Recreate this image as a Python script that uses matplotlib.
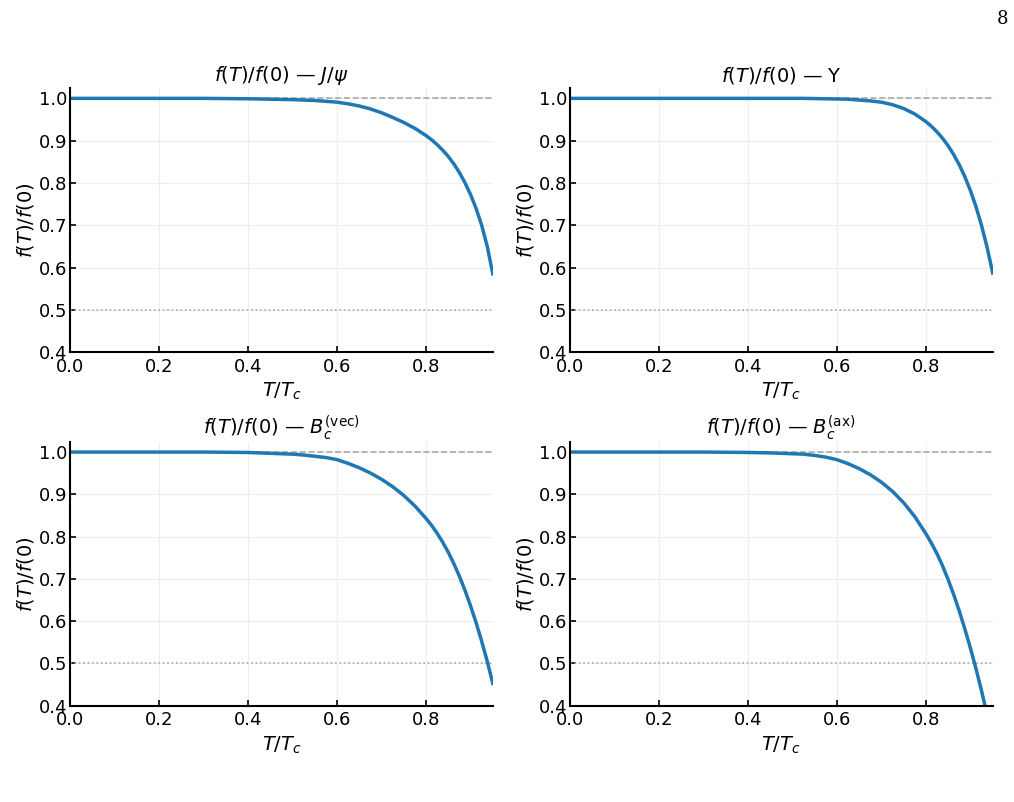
import numpy as np
import matplotlib
matplotlib.use("Agg")
import matplotlib.pyplot as plt

# Values
T = [0.0, 0.1, 0.2, 0.3, 0.35, 0.4, 0.45, 0.5, 0.525, 0.55, 0.575, 0.6,
     0.625, 0.65, 0.675, 0.7, 0.725, 0.75, 0.775, 0.8, 0.8125, 0.825,
     0.8375, 0.85, 0.8625, 0.875, 0.8875, 0.9, 0.9125, 0.925, 0.9375, 0.95]

f_jpsi = [1.0, 1.0, 1.0, 1.0, 0.9995, 0.999, 0.998, 0.997, 0.996, 0.995, 0.993, 0.991,
          0.987, 0.982, 0.975, 0.966, 0.955, 0.943, 0.929, 0.912, 0.902, 0.8905,
          0.8775, 0.8625, 0.845, 0.8245, 0.8005, 0.7725, 0.7395, 0.700, 0.650, 0.585]
f_upsilon = [1.0, 1.0, 1.0, 1.0, 1.0, 1.0, 1.0, 1.0, 1.0, 0.9995, 0.999, 0.9985,
             0.998, 0.996, 0.994, 0.991, 0.985, 0.976, 0.963, 0.945, 0.9337, 0.9206,
             0.9054, 0.8876, 0.8668, 0.8427, 0.8146, 0.7818, 0.7436, 0.6991, 0.6473, 0.5869]
f_bc_vec = [1.0, 1.0, 1.0, 1.0, 0.9995, 0.999, 0.997, 0.995, 0.993, 0.990, 0.987, 0.982,
            0.9732, 0.9628, 0.9504, 0.9357, 0.9181, 0.8973, 0.8724, 0.8429, 0.8266, 0.8079,
            0.7867, 0.7629, 0.7361, 0.7061, 0.6729, 0.6364, 0.5964, 0.5526, 0.5051, 0.4526]
f_bc_ax = [1.0, 1.0, 1.0, 1.0, 0.9995, 0.999, 0.998, 0.996, 0.995, 0.992, 0.988, 0.982,
           0.9725, 0.9608, 0.9464, 0.9287, 0.9069, 0.8801, 0.8472, 0.8067, 0.7842, 0.7592,
           0.7305, 0.698, 0.6624, 0.6236, 0.5811, 0.5361, 0.4874, 0.4349, 0.3786, 0.3186]

titles = [r"$f(T)/f(0)$ — $J/\psi$",
          r"$f(T)/f(0)$ — $\Upsilon$",
          r"$f(T)/f(0)$ — $B_c^{(\mathrm{vec})}$",
          r"$f(T)/f(0)$ — $B_c^{(\mathrm{ax})}$"]
series = [f_jpsi, f_upsilon, f_bc_vec, f_bc_ax]

fig = plt.figure(figsize=(10.14, 8.02), dpi=100)

# axes boxes in figure fractions (left, bottom, width, height)
boxes = [(0.069, 0.561, 0.417, 0.329),
         (0.562, 0.561, 0.417, 0.329),
         (0.069, 0.120, 0.417, 0.329),
         (0.562, 0.120, 0.417, 0.329)]

for box, title, vals in zip(boxes, titles, series):
    ax = fig.add_axes(box)
    ax.axhline(1.0, color="#aaaaaa", ls="--", lw=1.2)
    ax.axhline(0.5, color="#aaaaaa", ls=":", lw=1.2)
    ax.plot(T, vals, color="#1f77b4", lw=2.5)
    ax.set_xlim(0, 0.95)
    ax.set_ylim(0.4, 1.024)
    ax.set_xticks([0.0, 0.2, 0.4, 0.6, 0.8])
    ax.set_yticks([0.4, 0.5, 0.6, 0.7, 0.8, 0.9, 1.0])
    ax.grid(True, color="#eeeeee", lw=0.8)
    ax.set_axisbelow(True)
    ax.spines["top"].set_visible(False)
    ax.spines["right"].set_visible(False)
    ax.spines["left"].set_linewidth(1.5)
    ax.spines["bottom"].set_linewidth(1.5)
    ax.tick_params(direction="in", length=4, width=1.2, labelsize=13, pad=2)
    ax.tick_params(axis="x", pad=4)
    ax.set_title(title, fontsize=14, pad=5)
    ax.set_xlabel(r"$T/T_c$", fontsize=14, labelpad=4)
    ax.set_ylabel(r"$f(T)/f(0)$", fontsize=14, labelpad=2)

# page number
fig.text(0.994, 0.988, "8", family="DejaVu Serif", fontsize=13, ha="right", va="top")

fig.savefig("out.png", dpi=100)
